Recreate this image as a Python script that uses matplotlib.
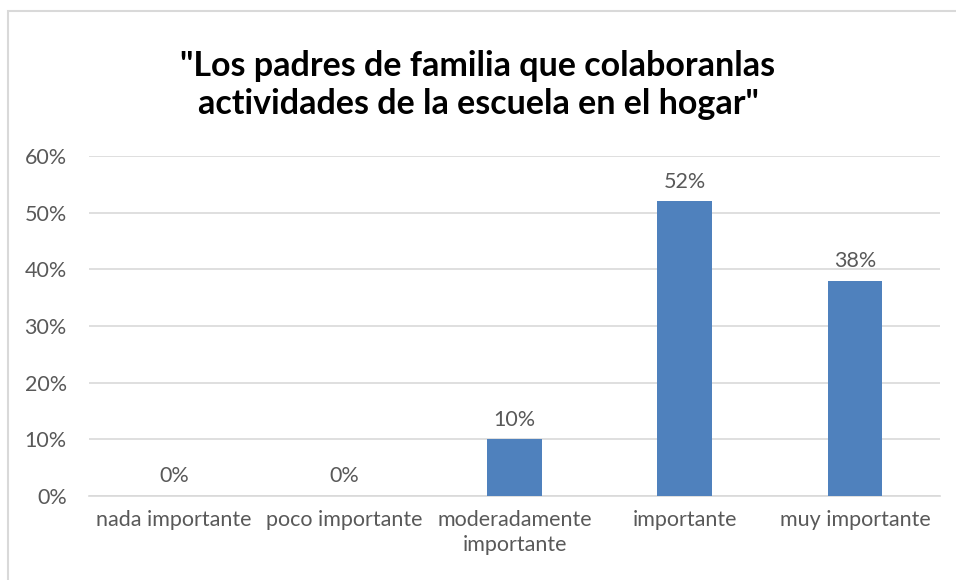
import matplotlib
matplotlib.use("Agg")
import matplotlib.pyplot as plt
from matplotlib.patches import Rectangle

categorias = ["nada importante", "poco importante", "moderadamente\nimportante",
              "importante", "muy importante"]
valores = [0.0, 0.0, 0.10, 0.52, 0.38]
etiquetas = ["0%", "0%", "10%", "52%", "38%"]
ticks_y = [0.0, 0.1, 0.2, 0.3, 0.4, 0.5, 0.6]

plt.rcParams['font.family'] = ['Lato', 'DejaVu Sans']
gris = "#595959"

fig = plt.figure(figsize=(9.56, 5.8), dpi=100)
# marco del gráfico
fig.patches.append(Rectangle((8 / 956, -0.1), 1.2, 1 - 11 / 580 + 0.1,
                             transform=fig.transFigure, fill=False,
                             edgecolor="#D9D9D9", linewidth=1.5))

ax = fig.add_axes([89 / 956, 1 - 496 / 580, (940 - 89) / 956, (496 - 156) / 580])
x = list(range(len(categorias)))
ax.bar(x, valores, width=0.32, color="#4F81BD", zorder=3)
for xi, v, t in zip(x, valores, etiquetas):
    ax.annotate(t, (xi, v), xytext=(0, 7), textcoords="offset points",
                ha="center", va="bottom", fontsize=15.5, color=gris)

ax.set_xlim(-0.5, len(categorias) - 0.5)
ax.set_ylim(0, 0.6)
ax.set_yticks(ticks_y)
ax.set_yticklabels([f"{int(round(t * 100))}%" for t in ticks_y])
ax.set_xticks(x)
ax.set_xticklabels(categorias, linespacing=1.3)
ax.tick_params(axis="y", length=0, pad=16, labelsize=15.5, labelcolor=gris)
ax.tick_params(axis="x", length=0, pad=10, labelsize=15.5, labelcolor=gris)
ax.grid(axis="y", color="#D9D9D9", linewidth=1.2, zorder=0)
for s in ["top", "right", "left"]:
    ax.spines[s].set_visible(False)
ax.spines["bottom"].set_color("#D9D9D9")
ax.spines["bottom"].set_linewidth(1.2)

fig.text(0.5, 1 - 85 / 580,
         "\"Los padres de familia que colaboranlas\nactividades de la escuela en el hogar\"",
         ha="center", va="center", fontsize=24.5, fontweight="bold",
         color="black", linespacing=1.25)

fig.savefig("out.png", dpi=100)
